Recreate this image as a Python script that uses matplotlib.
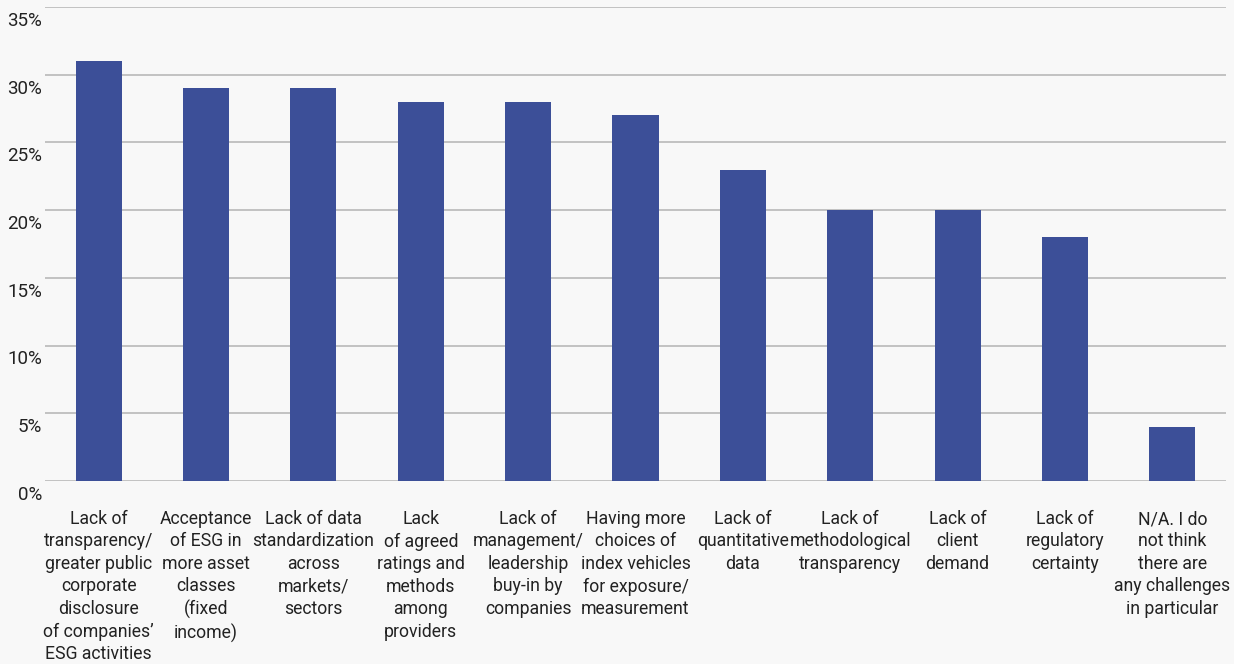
import matplotlib
matplotlib.use("Agg")
import matplotlib.pyplot as plt
import matplotlib.transforms as mtransforms

plt.rcParams['font.family'] = ['Roboto', 'DejaVu Sans']

categories = [
    "Lack of\ntransparency/\ngreater public\ncorporate\ndisclosure\nof companies’\nESG activities",
    "Acceptance\nof ESG in\nmore asset\nclasses\n(fixed\nincome)",
    "Lack of data\nstandardization\nacross\nmarkets/\nsectors",
    "Lack\nof agreed\nratings and\nmethods\namong\nproviders",
    "Lack of\nmanagement/\nleadership\nbuy-in by\ncompanies",
    "Having more\nchoices of\nindex vehicles\nfor exposure/\nmeasurement",
    "Lack of\nquantitative\ndata",
    "Lack of\nmethodological\ntransparency",
    "Lack of\nclient\ndemand",
    "Lack of\nregulatory\ncertainty",
    "N/A. I do\nnot think\nthere are\nany challenges\nin particular",
]
values = [31, 29, 29, 28, 28, 27, 23, 20, 20, 18, 4]
y_ticks = [0, 5, 10, 15, 20, 25, 30, 35]
y_tick_labels = [f"{v}%" for v in y_ticks]

bg = "#F8F8F8"
bar_color = "#3C4F98"
text_color = "#222222"

fig = plt.figure(figsize=(12.34, 6.64), dpi=100, facecolor=bg)
ax = fig.add_axes([45 / 1234, 1 - 481 / 664, 1181 / 1234, 474 / 664])
ax.set_facecolor(bg)

x = list(range(len(values)))
ax.bar(x, values, width=0.43, color=bar_color, zorder=3)

ax.set_xlim(-0.5, len(values) - 0.5)
ax.set_ylim(0, 35)

for v in y_ticks:
    ax.axhline(v, color="#C2C2C2", linewidth=1.4, zorder=1)

for s in ax.spines.values():
    s.set_visible(False)

ax.set_yticks(y_ticks)
ax.set_yticklabels(y_tick_labels, fontsize=13.5, color=text_color)
ax.tick_params(axis="y", length=0, pad=2)
offset = mtransforms.ScaledTranslation(0, -3.5 / 72, fig.dpi_scale_trans)
for lbl in ax.get_yticklabels():
    lbl.set_verticalalignment("top")
    lbl.set_transform(lbl.get_transform() + offset)

ax.set_xticks([])
trans = mtransforms.blended_transform_factory(ax.transData, fig.transFigure)
for xi, cat in zip(x, categories):
    ax.text(xi, 1 - 510 / 664, cat, transform=trans, ha="center", va="top",
            fontsize=12.7, color=text_color, linespacing=1.32, multialignment="center")

fig.savefig("out.png", dpi=100, facecolor=bg)
